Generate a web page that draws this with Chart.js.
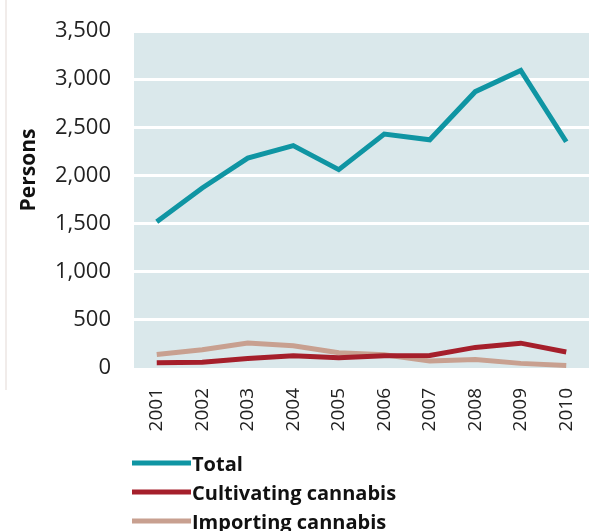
<!DOCTYPE html>
<html>
<head>
<meta charset="utf-8">
<script src="https://cdn.jsdelivr.net/npm/chart.js@4/dist/chart.umd.min.js"></script>
<style>
  body { margin: 0; background: #fff; }
  #grafico { display: block; }
</style>
</head>
<body>
<canvas id="grafico" width="589" height="531"></canvas>
<script>
// datos
const anios = ["2001", "2002", "2003", "2004", "2005", "2006", "2007", "2008", "2009", "2010"];
const total = [1520, 1870, 2180, 2310, 2060, 2430, 2370, 2870, 3090, 2350];
const cultivo = [54, 60, 99, 128, 106, 128, 130, 214, 258, 166];
const importacion = [140, 190, 260, 232, 158, 138, 72, 88, 48, 26];
const etiquetas = ["Total", "Cultivating cannabis", "Importing cannabis"];
const tituloY = "Persons";

const fuente = "'Open Sans', 'Noto Sans', sans-serif";

// fondo del area, borde izquierdo, titulo del eje y leyenda a mano
const decorado = {
  id: "decorado",
  beforeDraw(chart) {
    const ctx = chart.ctx;
    const a = chart.chartArea;
    ctx.save();
    ctx.fillStyle = "#f1ecea";
    ctx.fillRect(5, 0, 2, 390);
    ctx.fillStyle = "#dae8eb";
    ctx.fillRect(a.left, a.top + 2, a.right - a.left, a.bottom - a.top - 2);
    ctx.restore();
  },
  afterDraw(chart) {
    const ctx = chart.ctx;
    ctx.save();
    // titulo del eje
    ctx.translate(29, 170);
    ctx.rotate(-Math.PI / 2);
    ctx.font = "bold 21px " + fuente;
    ctx.fillStyle = "#111";
    ctx.textAlign = "center";
    ctx.textBaseline = "middle";
    ctx.fillText(tituloY, 0, 0);
    ctx.restore();

    // leyenda vertical
    ctx.save();
    chart.data.datasets.forEach((ds, i) => {
      const y = 463 + i * 29;
      ctx.fillStyle = ds.borderColor;
      ctx.fillRect(132, y - 2.5, 59, 5);
      ctx.font = "bold 20px " + fuente;
      ctx.fillStyle = "#111";
      ctx.textAlign = "left";
      ctx.textBaseline = "middle";
      ctx.fillText(ds.label, 192, y + 2);
    });
    ctx.restore();
  }
};

const ctx = document.getElementById("grafico").getContext("2d");
window.grafico = new Chart(ctx, {
  type: "line",
  data: {
    labels: anios,
    datasets: [
      { label: etiquetas[0], data: total, borderColor: "#0f95a3", borderWidth: 5, pointRadius: 0, tension: 0 },
      { label: etiquetas[1], data: cultivo, borderColor: "#a51f2b", borderWidth: 5, pointRadius: 0, tension: 0 },
      { label: etiquetas[2], data: importacion, borderColor: "#c8a090", borderWidth: 5, pointRadius: 0, tension: 0 }
    ]
  },
  options: {
    responsive: false,
    animation: false,
    layout: { padding: { top: 31, right: 0, bottom: 88, left: 0 } },
    plugins: {
      legend: { display: false },
      tooltip: { enabled: false }
    },
    scales: {
      x: {
        offset: true,
        grid: { display: false, drawTicks: false },
        border: { display: false },
        ticks: {
          minRotation: 90,
          maxRotation: 90,
          padding: 20,
          color: "#222",
          font: { family: fuente, size: 19 }
        },
        afterFit(scale) {
          scale.height = 75;
          scale.paddingLeft = 0;
          scale.paddingRight = 0;
        }
      },
      y: {
        min: 0,
        max: 3500,
        grid: {
          drawTicks: false,
          lineWidth: 3,
          color: c => (c.tick && (c.tick.value === 0 || c.tick.value === 3500)) ? "rgba(0,0,0,0)" : "#ffffff"
        },
        border: { display: false },
        ticks: {
          stepSize: 500,
          padding: 23,
          color: "#222",
          font: { family: fuente, size: 22 }
        },
        afterFit(scale) {
          scale.width = 134;
          scale.paddingTop = 0;
          scale.paddingBottom = 0;
        }
      }
    }
  },
  plugins: [decorado]
});
</script>
</body>
</html>
